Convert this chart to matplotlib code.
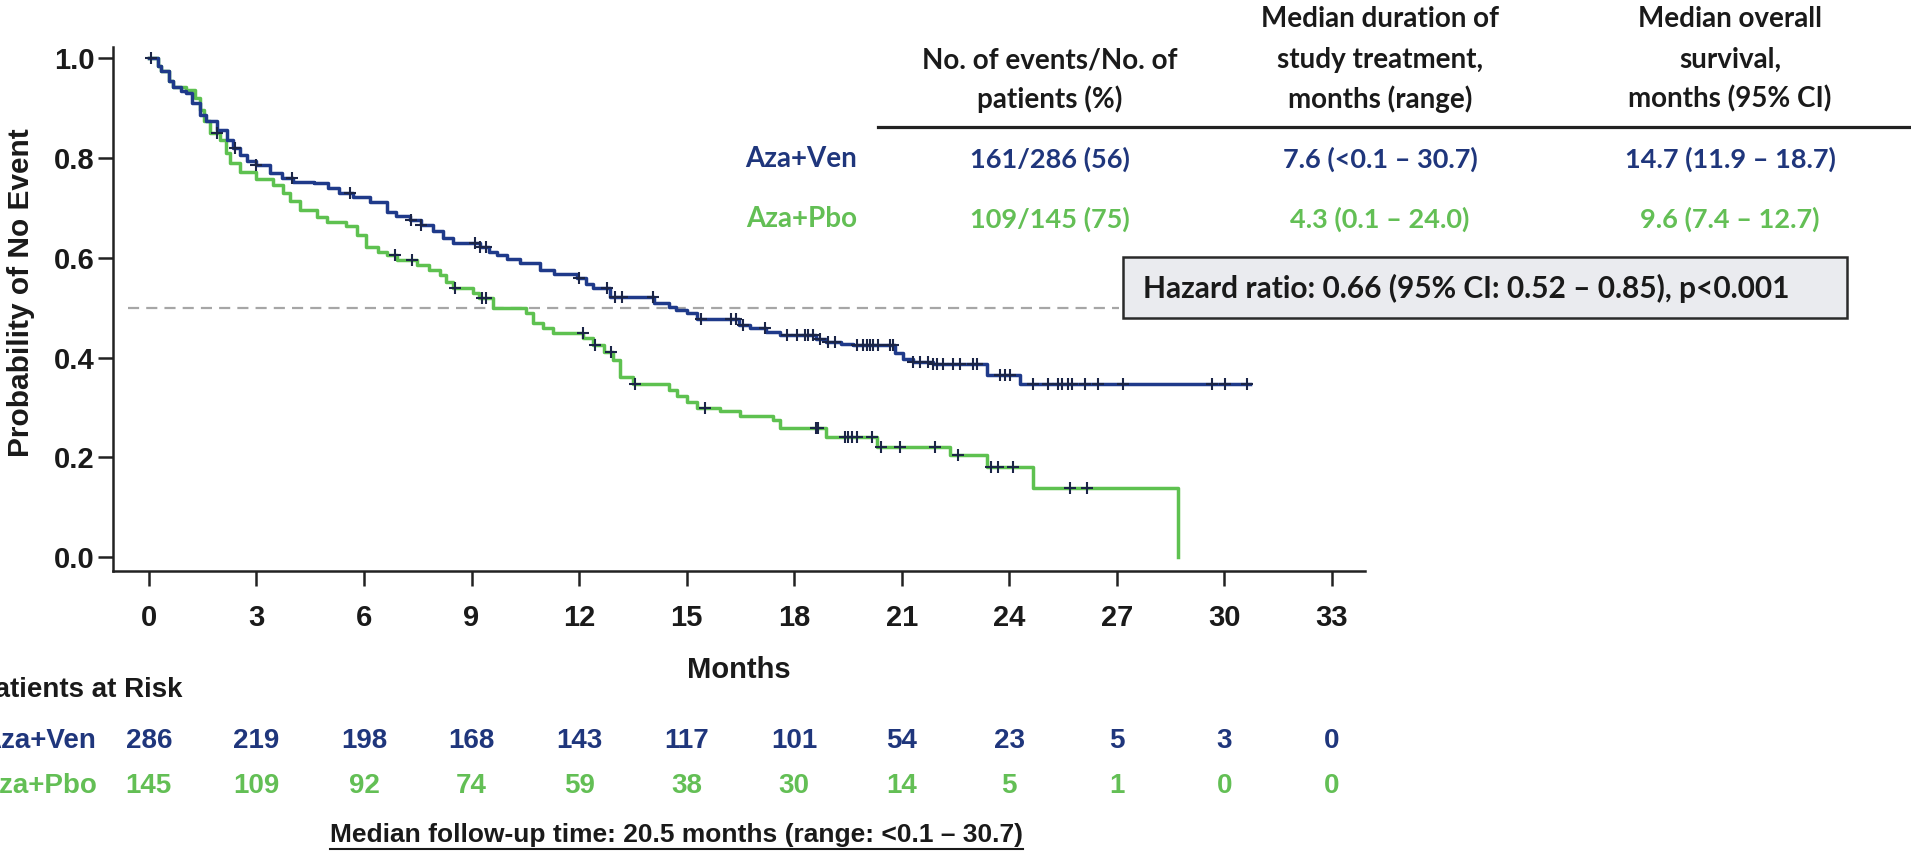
import numpy as np
import matplotlib
matplotlib.use("Agg")
from matplotlib import pyplot as plt
from matplotlib import transforms
from matplotlib.patches import Rectangle
from matplotlib.lines import Line2D

W, H = 1911, 852

# Kaplan-Meier steps: month of step, survival after it
ven_t = [0.0, 0.25, 0.35, 0.55, 0.68, 0.9, 1.05, 1.2, 1.42, 1.6, 1.89, 2.17, 2.35,
         2.54, 2.75, 3.0, 3.37, 3.7, 4.03, 4.6, 5.0, 5.3, 5.7, 6.16, 6.63, 6.9,
         7.28, 7.6, 7.93, 8.2, 8.49, 9.23, 9.5, 9.7, 10.0, 10.35, 10.9, 11.3,
         11.93, 12.2, 12.4, 12.86, 14.1, 14.5, 14.7, 15.0, 15.28, 16.45, 16.76,
         17.2, 17.6, 18.6, 18.9, 19.3, 19.65, 20.8, 21.04, 21.3, 21.88, 23.37,
         24.3, 30.7]
ven_s = [1.0, 0.985, 0.974, 0.955, 0.943, 0.935, 0.93, 0.91, 0.887, 0.875, 0.857,
         0.837, 0.82, 0.806, 0.795, 0.786, 0.77, 0.76, 0.753, 0.75, 0.74, 0.73,
         0.723, 0.713, 0.693, 0.685, 0.676, 0.665, 0.653, 0.64, 0.629, 0.622,
         0.612, 0.606, 0.598, 0.589, 0.576, 0.568, 0.559, 0.548, 0.539, 0.522,
         0.509, 0.502, 0.495, 0.49, 0.478, 0.465, 0.459, 0.452, 0.445, 0.438,
         0.432, 0.428, 0.425, 0.41, 0.398, 0.392, 0.388, 0.365, 0.348, 0.348]
ven_cens = [0.05, 2.4, 3.0, 4.0, 5.6, 7.3, 7.6, 9.1, 9.25, 9.4, 12.0, 12.77, 13.0,
            13.19, 14.05, 15.41, 16.25, 16.39, 16.58, 17.18, 17.79, 18.07, 18.3,
            18.39, 18.53, 18.72, 18.95, 19.14, 19.74, 19.93, 20.02, 20.11, 20.2,
            20.34, 20.67, 20.76, 21.32, 21.5, 21.74, 21.88, 21.97, 22.16, 22.44,
            22.62, 22.99, 23.09, 23.74, 23.88, 24.02, 24.67, 25.09, 25.37, 25.46,
            25.64, 25.74, 26.11, 26.48, 27.18, 29.64, 30.01, 30.62]

pbo_t = [0.0, 0.25, 0.35, 0.55, 0.68, 1.05, 1.3, 1.42, 1.55, 1.7, 1.98, 2.15, 2.26,
         2.54, 3.0, 3.47, 3.75, 3.95, 4.21, 4.7, 4.96, 5.51, 5.8, 6.07, 6.4, 6.63,
         6.91, 7.47, 7.8, 8.12, 8.3, 8.49, 9.05, 9.2, 9.6, 10.53, 10.72, 11.0,
         11.28, 12.12, 12.4, 12.7, 12.95, 13.14, 13.51, 14.5, 14.72, 15.0, 15.28,
         15.93, 16.49, 17.41, 17.6, 18.9, 20.3, 22.34, 23.37, 24.67, 28.7]
pbo_s = [1.0, 0.985, 0.974, 0.955, 0.943, 0.937, 0.92, 0.897, 0.875, 0.85, 0.837,
         0.81, 0.79, 0.773, 0.759, 0.746, 0.73, 0.715, 0.696, 0.683, 0.673, 0.663,
         0.645, 0.622, 0.612, 0.606, 0.596, 0.586, 0.576, 0.566, 0.552, 0.539,
         0.529, 0.519, 0.499, 0.489, 0.469, 0.459, 0.449, 0.439, 0.425, 0.412,
         0.395, 0.362, 0.348, 0.335, 0.322, 0.31, 0.298, 0.292, 0.282, 0.275,
         0.258, 0.241, 0.221, 0.205, 0.181, 0.138, 0.0]
pbo_cens = [1.9, 6.86, 7.33, 8.55, 9.3, 9.4, 12.1, 12.45, 12.9, 13.56, 15.51, 18.62,
            18.67, 19.41, 19.5, 19.6, 19.74, 20.16, 20.43, 20.95, 21.92, 22.57,
            23.5, 23.69, 24.11, 25.69, 26.16]

risk_months = [0, 3, 6, 9, 12, 15, 18, 21, 24, 27, 30, 33]
ven_risk = [286, 219, 198, 168, 143, 117, 101, 54, 23, 5, 3, 0]
pbo_risk = [145, 109, 92, 74, 59, 38, 30, 14, 5, 1, 0, 0]

arms = ["Aza+Ven", "Aza+Pbo"]
col_headers = [["No. of events/No. of", "patients (%)"],
               ["Median duration of", "study treatment,", "months (range)"],
               ["Median overall", "survival,", "months (95% CI)"]]
ven_row = ["161/286 (56)", "7.6 (<0.1 \u2013 30.7)", "14.7 (11.9 \u2013 18.7)"]
pbo_row = ["109/145 (75)", "4.3 (0.1 \u2013 24.0)", "9.6 (7.4 \u2013 12.7)"]
hr_text = "Hazard ratio: 0.66 (95% CI: 0.52 \u2013 0.85), p<0.001"
followup_text = "Median follow-up time: 20.5 months (range: <0.1 \u2013 30.7)"

BLUE = "#1f3a8a"
GREEN = "#5ec150"
BLUE_TXT = "#1f367c"
GREEN_TXT = "#63bf55"
CENS = "#1b2547"
ARIAL = ["Liberation Sans", "DejaVu Sans"]
CALIBRI = ["Lato", "DejaVu Sans"]


def fx(x):
    return x / W


def fy(y):
    return 1 - y / H


def step_at(ts, ss, c):
    i = np.searchsorted(np.asarray(ts), np.asarray(c), side="right") - 1
    return np.asarray(ss)[i]


fig = plt.figure(figsize=(W / 100, H / 100), dpi=100)
ax = fig.add_axes([fx(113), fy(571), (1365 - 113) / W, (571 - 47) / H])

ax.plot(pbo_t, pbo_s, drawstyle="steps-post", color=GREEN, lw=2.5, zorder=3)
ax.plot(ven_t, ven_s, drawstyle="steps-post", color=BLUE, lw=2.5, zorder=4)
ax.plot(pbo_cens, step_at(pbo_t, pbo_s, pbo_cens), ls="none", marker="+",
        ms=9, mew=1.5, color=CENS, zorder=5)
ax.plot(ven_cens, step_at(ven_t, ven_s, ven_cens), ls="none", marker="+",
        ms=9, mew=1.5, color=CENS, zorder=5)
ax.hlines(0.5, -0.58, 27.05, colors="#a6a6a6", lw=1.6, linestyles=(0, (5, 3.2)),
          zorder=2)

ax.set_xlim(-1.0, 33.92)
ax.set_ylim(-0.028, 1.023)
ax.set_xticks(risk_months)
ax.set_yticks([0.0, 0.2, 0.4, 0.6, 0.8, 1.0])
ax.set_yticklabels(["0.0", "0.2", "0.4", "0.6", "0.8", "1.0"])
for s in ["top", "right"]:
    ax.spines[s].set_visible(False)
for s in ["left", "bottom"]:
    ax.spines[s].set_linewidth(1.8)
    ax.spines[s].set_color("#222222")
ax.tick_params(axis="both", direction="out", length=11, width=1.8, color="#222222")
ax.tick_params(axis="x", pad=13)
ax.tick_params(axis="y", pad=2)
for lab in ax.get_xticklabels() + ax.get_yticklabels():
    lab.set_family(ARIAL)
    lab.set_fontweight("bold")
    lab.set_fontsize(21)
    lab.set_color("#1a1a1a")

fig.text(fx(21), fy(293), "Probability of No Event", rotation=90, ha="center",
         va="center", family=ARIAL, fontweight="bold", fontsize=21.5, color="#1a1a1a")
fig.text(fx(739), fy(670), "Months", ha="center", va="center", family=ARIAL,
         fontweight="bold", fontsize=21, color="#1a1a1a")

# number at risk under the axis
trans = transforms.blended_transform_factory(ax.transData, fig.transFigure)
fig.text(fx(-24), fy(690), "Patients at Risk", ha="left", va="center", family=ARIAL,
         fontweight="bold", fontsize=20, color="#1a1a1a")
fig.text(fx(96), fy(741), arms[0], ha="right", va="center", family=ARIAL,
         fontweight="bold", fontsize=20, color=BLUE_TXT)
fig.text(fx(97), fy(786), arms[1], ha="right", va="center", family=ARIAL,
         fontweight="bold", fontsize=20, color=GREEN_TXT)
for m, a, b in zip(risk_months, ven_risk, pbo_risk):
    ax.text(m, fy(741), str(a), transform=trans, ha="center", va="center",
            family=ARIAL, fontweight="bold", fontsize=20, color=BLUE_TXT)
    ax.text(m, fy(786), str(b), transform=trans, ha="center", va="center",
            family=ARIAL, fontweight="bold", fontsize=20, color=GREEN_TXT)

fu = fig.text(fx(676), fy(835), followup_text, ha="center", va="center",
              family=ARIAL, fontweight="bold", fontsize=19, color="#1a1a1a")

# summary table top right
col_x = [1050, 1380, 1730]
line_y = [19, 60, 99]
for cx, lines in zip(col_x, col_headers):
    for yy, line in zip(line_y[-len(lines):], lines):
        fig.text(fx(cx), fy(yy), line, ha="center", va="center", family=CALIBRI,
                 fontweight="bold", fontsize=20, color="#1a1a1a")
fig.add_artist(Line2D([fx(878), 1.0], [fy(127), fy(127)], transform=fig.transFigure,
                      color="#222222", lw=2.3))
for yy, arm, row, col in [(159, arms[0], ven_row, BLUE_TXT),
                          (219, arms[1], pbo_row, GREEN_TXT)]:
    fig.text(fx(857), fy(yy), arm, ha="right", va="center", family=CALIBRI,
             fontweight="bold", fontsize=20, color=col)
    for cx, val in zip(col_x, row):
        fig.text(fx(cx), fy(yy), val, ha="center", va="center", family=CALIBRI,
                 fontweight="bold", fontsize=19.5, color=col)

fig.add_artist(Rectangle((fx(1123), fy(318)), (1847 - 1123) / W, (318 - 257) / H,
                         transform=fig.transFigure, facecolor="#eaebef",
                         edgecolor="#2a2a2a", lw=1.8))
fig.text(fx(1143), fy(288), hr_text, ha="left", va="center", family=CALIBRI,
         fontweight="bold", fontsize=21.5, color="#1a1a1a")

# underline the follow-up note
fig.canvas.draw()
bb = fu.get_window_extent().transformed(fig.transFigure.inverted())
fig.add_artist(Line2D([bb.x0, bb.x1], [fy(849), fy(849)], transform=fig.transFigure,
                      color="#1a1a1a", lw=1.5))

fig.savefig("out.png", dpi=100)
